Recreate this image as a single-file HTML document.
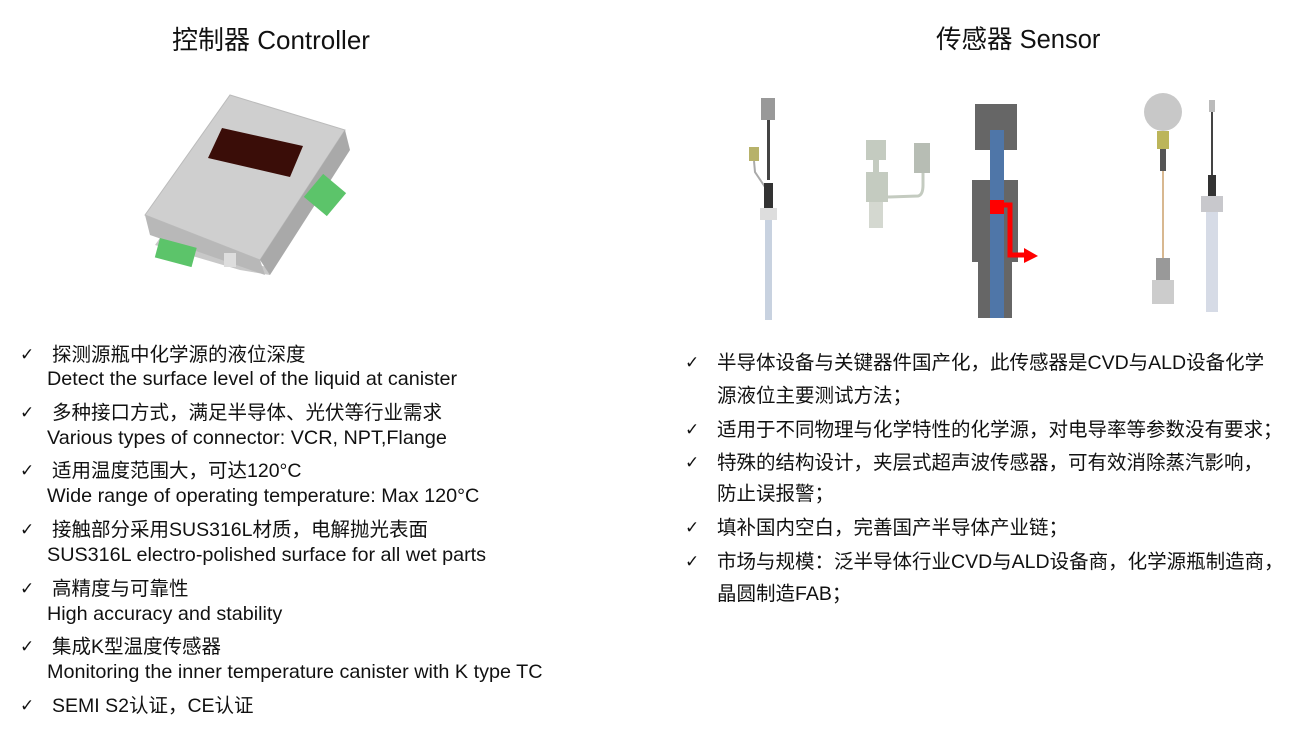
<!DOCTYPE html>
<html><head><meta charset="utf-8"><style>
body{margin:0;width:1300px;height:730px;background:#fff;position:relative;overflow:hidden;font-family:"Liberation Sans","Noto Sans CJK SC",sans-serif;color:#111}
.t{position:absolute;font-size:19.5px;white-space:nowrap;line-height:24px}
.e{font-size:19.8px}
.c{position:absolute;font-size:17px;line-height:24px;font-family:"DejaVu Sans",sans-serif}
.h{position:absolute;font-size:26px;white-space:nowrap;line-height:30px}
</style></head><body>
<div class="h" style="left:172px;top:25px">控制器 Controller</div>
<div class="h" style="left:936px;top:25px;font-size:25.5px">传感器 Sensor</div>

<svg width="1300" height="730" style="position:absolute;left:0;top:0">
<polygon points="155,245 240,270 270,275 270,268 160,238" fill="#c8c8c8"/>
<polygon points="145,215 230,95 345,130 260,260" fill="#cfcfcf" stroke="#bbb"/>
<polygon points="145,215 260,260 265,275 150,235" fill="#b8b8b8"/>
<polygon points="260,260 345,130 350,150 270,275" fill="#a9a9a9"/>
<polygon points="222,128 303,146 290,177 208,158" fill="#3a0d08"/>
<rect x="160" y="238" width="38" height="20" fill="#5cc46a" transform="rotate(15 160 238)"/>
<rect x="310" y="180" width="30" height="30" fill="#5cc46a" transform="rotate(-50 325 195)"/>
<rect x="224" y="253" width="12" height="14" fill="#ddd"/>
<rect x="761" y="98" width="14" height="22" fill="#999"/>
<rect x="767" y="120" width="3" height="60" fill="#444"/>
<rect x="749" y="147" width="10" height="14" fill="#b7b26a"/>
<path d="M754 161 L755 172 L767 190" stroke="#aaa" fill="none" stroke-width="2"/>
<rect x="764" y="183" width="9" height="25" fill="#333"/>
<rect x="760" y="208" width="17" height="12" fill="#ddd"/>
<rect x="765" y="220" width="7" height="100" fill="#c8d2e0"/>
<rect x="866" y="140" width="20" height="20" fill="#c4cbc0"/>
<rect x="873" y="160" width="6" height="12" fill="#c4cbc0"/>
<rect x="866" y="172" width="22" height="30" fill="#c4cbc0"/>
<rect x="869" y="202" width="14" height="26" fill="#d4d8d0"/>
<rect x="914" y="143" width="16" height="30" fill="#b7bdb4"/>
<path d="M888 197 L918 196 Q923 195 923 185 L923 173" stroke="#c4cbc0" stroke-width="3" fill="none"/>
<rect x="975" y="104" width="42" height="46" fill="#666"/>
<rect x="972" y="180" width="46" height="82" fill="#666"/>
<rect x="978" y="262" width="34" height="56" fill="#666"/>
<rect x="990" y="130" width="14" height="188" fill="#4f76a8"/>
<rect x="990" y="200" width="14" height="14" fill="#f00"/>
<path d="M1004 205 L1010 205 L1010 255 L1025 255" stroke="#f00" stroke-width="5" fill="none"/>
<polygon points="1024,248 1038,256 1024,263" fill="#f00"/>
<circle cx="1163" cy="112" r="19" fill="#c8c8c8"/>
<rect x="1157" y="131" width="12" height="18" fill="#bcb55a"/>
<rect x="1160" y="149" width="6" height="22" fill="#555"/>
<rect x="1162" y="171" width="2" height="90" fill="#d8b890"/>
<rect x="1156" y="258" width="14" height="22" fill="#999"/>
<rect x="1152" y="280" width="22" height="24" fill="#ccc"/>
<rect x="1209" y="100" width="6" height="12" fill="#bbb"/>
<rect x="1211" y="112" width="2" height="65" fill="#444"/>
<rect x="1208" y="175" width="8" height="23" fill="#333"/>
<rect x="1201" y="196" width="22" height="16" fill="#c8c8cc"/>
<rect x="1206" y="212" width="12" height="100" fill="#d6dbe6"/>
</svg>

<div class="c" style="left:20px;top:343px">✓</div><div class="t" style="left:52px;top:343px">探测源瓶中化学源的液位深度</div>
<div class="t e" style="left:47px;top:367px">Detect the surface level of the liquid at canister</div>
<div class="c" style="left:20px;top:401px">✓</div><div class="t" style="left:52px;top:401px">多种接口方式，满足半导体、光伏等行业需求</div>
<div class="t e" style="left:47px;top:426px">Various types of connector: VCR, NPT,Flange</div>
<div class="c" style="left:20px;top:459px">✓</div><div class="t" style="left:52px;top:459px">适用温度范围大，可达120°C</div>
<div class="t e" style="left:47px;top:484px">Wide range of operating temperature: Max 120°C</div>
<div class="c" style="left:20px;top:518px">✓</div><div class="t" style="left:52px;top:518px">接触部分采用SUS316L材质，电解抛光表面</div>
<div class="t e" style="left:47px;top:543px">SUS316L electro-polished surface for all wet parts</div>
<div class="c" style="left:20px;top:577px">✓</div><div class="t" style="left:52px;top:577px">高精度与可靠性</div>
<div class="t e" style="left:47px;top:602px">High accuracy and stability</div>
<div class="c" style="left:20px;top:635px">✓</div><div class="t" style="left:52px;top:635px">集成K型温度传感器</div>
<div class="t e" style="left:47px;top:660px">Monitoring the inner temperature canister with K type TC</div>
<div class="c" style="left:20px;top:694px">✓</div><div class="t" style="left:52px;top:694px">SEMI S2认证，CE认证</div>

<div class="c" style="left:685px;top:351px">✓</div><div class="t" style="left:717px;top:351px">半导体设备与关键器件国产化，此传感器是CVD与ALD设备化学</div>
<div class="t" style="left:717px;top:384px">源液位主要测试方法；</div>
<div class="c" style="left:685px;top:418px">✓</div><div class="t" style="left:717px;top:418px">适用于不同物理与化学特性的化学源，对电导率等参数没有要求；</div>
<div class="c" style="left:685px;top:451px">✓</div><div class="t" style="left:717px;top:451px">特殊的结构设计，夹层式超声波传感器，可有效消除蒸汽影响，</div>
<div class="t" style="left:717px;top:482px">防止误报警；</div>
<div class="c" style="left:685px;top:516px">✓</div><div class="t" style="left:717px;top:516px">填补国内空白，完善国产半导体产业链；</div>
<div class="c" style="left:685px;top:550px">✓</div><div class="t" style="left:717px;top:550px">市场与规模：泛半导体行业CVD与ALD设备商，化学源瓶制造商，</div>
<div class="t" style="left:717px;top:582px">晶圆制造FAB；</div>
</body></html>
